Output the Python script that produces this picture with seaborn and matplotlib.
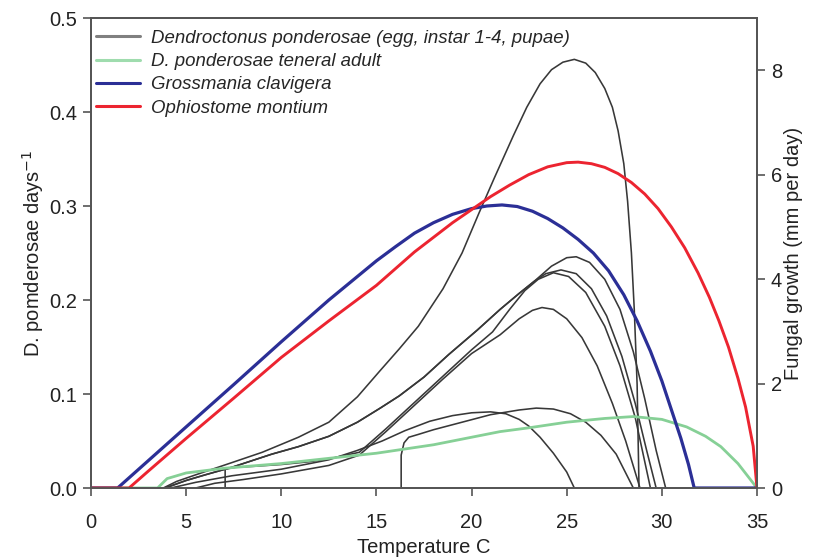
import numpy as np
import pandas as pd
import matplotlib
matplotlib.use("Agg")
import matplotlib.pyplot as plt
import seaborn as sns
from matplotlib.lines import Line2D

# ---------------- data ----------------
# Fungal growth (right axis, mm per day)
T_gc = [0, 1.4, 3, 5, 7.5, 10, 12.5, 15, 16, 17, 18, 19, 20, 20.8, 21.6, 22.4, 23.2,
        24, 24.8, 25.6, 26.4, 27.2, 28, 28.7, 29.4, 30, 30.5, 31.0, 31.4, 31.7, 35]
G_gc = [0, 0, 0.52, 1.17, 1.98, 2.8, 3.6, 4.35, 4.62, 4.88, 5.08, 5.24, 5.35, 5.4,
        5.42, 5.39, 5.3, 5.16, 4.98, 4.76, 4.5, 4.16, 3.7, 3.2, 2.62, 2.05, 1.5,
        0.95, 0.45, 0, 0]

T_om = [0, 2.0, 3, 5, 7.5, 10, 12.5, 15, 16, 17, 18, 19, 20, 21, 22, 23, 24, 25,
        25.6, 26.3, 27, 27.7, 28.4, 29.1, 29.8, 30.5, 31.2, 31.9, 32.5, 33, 33.5,
        34, 34.4, 34.8, 35]
G_om = [0, 0, 0.32, 0.95, 1.72, 2.5, 3.2, 3.88, 4.2, 4.52, 4.8, 5.08, 5.33, 5.58,
        5.8, 6.0, 6.15, 6.23, 6.24, 6.21, 6.14, 6.02, 5.85, 5.63, 5.35, 5.0, 4.6,
        4.12, 3.65, 3.2, 2.7, 2.1, 1.55, 0.8, 0]

# D. ponderosae teneral adult (left axis)
T_ten = [0, 3.5, 4.0, 5, 7, 10, 12.7, 15, 18, 21.5, 23, 25, 27, 28.5, 30, 31.3,
         32.3, 33.1, 34, 35]
R_ten = [0, 0, 0.010, 0.016, 0.021, 0.026, 0.032, 0.037, 0.046, 0.060, 0.064,
         0.070, 0.074, 0.076, 0.073, 0.065, 0.055, 0.044, 0.026, 0]

# D. ponderosae life stages (left axis)
T_a = [3.8, 4.5, 5.5, 7.4, 9, 10.9, 12.5, 14, 15.2, 16.2, 17.2, 18.5, 19.5, 20.4,
       21.2, 22.2, 22.9, 23.6, 24.2, 24.8, 25.4, 26.0, 26.5, 27.0, 27.4, 27.7, 28.0,
       28.2, 28.4, 28.55, 28.7, 28.8]
R_a = [0, 0.007, 0.014, 0.027, 0.038, 0.054, 0.07, 0.097, 0.125, 0.148, 0.172,
       0.212, 0.25, 0.293, 0.33, 0.375, 0.405, 0.43, 0.445, 0.453, 0.456, 0.452,
       0.442, 0.425, 0.405, 0.38, 0.345, 0.305, 0.25, 0.19, 0.11, 0]

T_c = [3.9, 5, 6, 7.4, 8.3, 9.5, 10.9, 12.5, 14, 15.2, 16.2, 17.5, 18.8, 20.3, 21.5,
       22.5, 23.3, 24.2, 25.0, 25.5, 26.2, 27, 27.8, 28.5, 29.1, 29.7, 30.2]
R_c = [0, 0.008, 0.014, 0.022, 0.028, 0.036, 0.044, 0.055, 0.07, 0.085, 0.098, 0.118,
       0.142, 0.168, 0.19, 0.207, 0.22, 0.236, 0.245, 0.246, 0.24, 0.222, 0.19,
       0.145, 0.095, 0.04, 0]

T_d = [3.9, 5, 6, 7.4, 8.3, 9.5, 10.9, 12.5, 14, 15.2, 16.2, 17.5, 18.8, 20.3, 21.5,
       22.5, 23.3, 23.9, 24.7, 25.5, 26.3, 27.1, 27.9, 28.6, 29.2, 29.7]
R_d = [0, 0.008, 0.014, 0.022, 0.028, 0.036, 0.044, 0.055, 0.07, 0.085, 0.098, 0.118,
       0.142, 0.168, 0.19, 0.207, 0.22, 0.228, 0.232, 0.228, 0.212, 0.183, 0.14,
       0.09, 0.04, 0]

T_e = [7.05, 7.05, 7.6, 8.5, 10, 11.5, 12.5, 14.1, 15.5, 17, 18.5, 20, 21.1, 22, 22.8,
       23.5, 24.3, 25.1, 26, 27, 27.8, 28.6, 29.4]
R_e = [0, 0.02, 0.022, 0.023, 0.025, 0.028, 0.031, 0.038, 0.063, 0.091, 0.119, 0.147,
       0.166, 0.19, 0.21, 0.222, 0.229, 0.225, 0.208, 0.172, 0.13, 0.075, 0]

T_f = [5.5, 6.5, 8, 10, 12.5, 14.1, 15.5, 17, 18.5, 20, 21.5, 22.5, 23.2, 23.7, 24.3,
       25, 25.8, 26.6, 27.4, 28.1, 28.85]
R_f = [0, 0.005, 0.009, 0.015, 0.024, 0.035, 0.06, 0.088, 0.116, 0.143, 0.163, 0.18,
       0.189, 0.192, 0.19, 0.18, 0.16, 0.13, 0.09, 0.05, 0]

T_g = [4.2, 5.5, 7.4, 10, 12.5, 14, 15.3, 16.5, 17.8, 19, 20, 21, 21.8, 22.5, 23,
       23.6, 24.3, 25, 25.4]
R_g = [0, 0.006, 0.013, 0.02, 0.03, 0.04, 0.05, 0.061, 0.071, 0.077, 0.08, 0.081,
       0.079, 0.073, 0.066, 0.054, 0.037, 0.017, 0]

T_h = [16.3, 16.3, 16.45, 16.7, 17.2, 18, 19.5, 21, 22.5, 23.4, 24.3, 25.2, 26, 26.8,
       27.6, 28.5]
R_h = [0, 0.035, 0.048, 0.054, 0.057, 0.062, 0.07, 0.078, 0.083, 0.085, 0.084, 0.079,
       0.07, 0.056, 0.036, 0]

stage_T = [T_a, T_c, T_d, T_e, T_f, T_g, T_h]
stage_R = [R_a, R_c, R_d, R_e, R_f, R_g, R_h]

legend_labels = ["Dendroctonus ponderosae (egg, instar 1-4, pupae)",
                 "D. ponderosae teneral adult",
                 "Grossmania clavigera",
                 "Ophiostome montium"]
left_ticks = [0.0, 0.1, 0.2, 0.3, 0.4, 0.5]
right_ticks = [0, 2, 4, 6, 8]
x_ticks = [0, 5, 10, 15, 20, 25, 30, 35]

# ---------------- style ----------------
sns.set_style("ticks")
plt.rcParams["font.family"] = ["Liberation Sans", "DejaVu Sans"]
SPINE = "#555555"
C_BLACK = "#383838"
C_GREEN = "#86d096"
C_BLUE = "#2b2f96"
C_RED = "#ec2430"

fig = plt.figure(figsize=(8.21, 5.6), dpi=100)
ax = fig.add_axes([91 / 821, 1 - 488 / 560, (757 - 91) / 821, (488 - 18) / 560])
ax2 = ax.twinx()

for T, R in zip(stage_T, stage_R):
    sns.lineplot(x=T, y=R, ax=ax, color=C_BLACK, lw=1.15, estimator=None,
                 sort=False, legend=False)
sns.lineplot(x=T_ten, y=R_ten, ax=ax, color=C_GREEN, lw=2.0, estimator=None,
             sort=False, legend=False)

sns.lineplot(x=T_gc, y=G_gc, ax=ax2, color=C_BLUE, lw=2.3, estimator=None,
             sort=False, legend=False)
sns.lineplot(x=T_om, y=G_om, ax=ax2, color=C_RED, lw=2.1, estimator=None,
             sort=False, legend=False)

ax.set_xlim(0, 35)
ax.set_ylim(0, 0.5)
ax2.set_ylim(0, 9)
ax.set_xticks(x_ticks)
ax.set_yticks(left_ticks)
ax.set_yticklabels([f"{t:.1f}" for t in left_ticks])
ax2.set_yticks(right_ticks)
ax2.set_yticklabels([str(t) for t in right_ticks])

for a in (ax, ax2):
    for s in a.spines.values():
        s.set_color(SPINE)
        s.set_linewidth(1.3)
    a.tick_params(colors="#222222", labelsize=14.5, length=6, width=1.2,
                  color=SPINE)
ax.tick_params(axis="x", pad=12)
ax.tick_params(axis="y", pad=4)
ax2.tick_params(axis="y", pad=4)

ax.set_xlabel("Temperature C", fontsize=14.5, labelpad=4, color="#222222")
ax.set_ylabel("D. pomderosae days$^{-1}$", fontsize=14.5, labelpad=2,
              color="#222222")
ax2.set_ylabel("Fungal growth (mm per day)", fontsize=14.5, labelpad=1,
               color="#222222")

handles = [Line2D([], [], color="#808080", lw=2.2),
           Line2D([], [], color="#9fdcae", lw=2.2),
           Line2D([], [], color=C_BLUE, lw=2.2),
           Line2D([], [], color=C_RED, lw=2.2)]
ax2.legend(handles, legend_labels, loc="upper left",
           bbox_to_anchor=(0.0, 1.0 - 7 / 470),
           frameon=False, prop={"style": "italic", "size": 13.4},
           handlelength=2.4, handletextpad=0.55, labelspacing=0.34,
           borderaxespad=0.25, borderpad=0.0)

fig.savefig("out.png", dpi=100)
